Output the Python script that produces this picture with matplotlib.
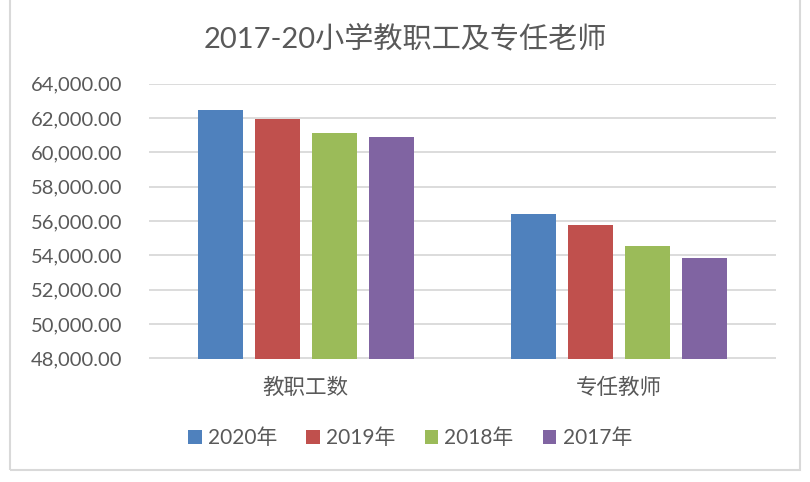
import numpy as np
import matplotlib
matplotlib.use("Agg")
import matplotlib.pyplot as plt
from matplotlib.patches import Rectangle

plt.rcParams['font.family'] = ['Lato', 'Noto Sans CJK SC', 'DejaVu Sans']

# data
categories = ['教职工数', '专任教师']
years = ['2020年', '2019年', '2018年', '2017年']
values = {
    '2020年': [62470, 56400],
    '2019年': [61940, 55770],
    '2018年': [61120, 54570],
    '2017年': [60880, 53830],
}
colors = ['#4F81BD', '#C0504D', '#9BBB59', '#8064A2']
yticks = np.arange(48000, 64001, 2000)

text_color = '#595959'
grid_color = '#D9D9D9'

fig = plt.figure(figsize=(8.1, 4.82), dpi=100)
ax = fig.add_axes([149 / 810, (482 - 358.5) / 482, 627 / 810, 275 / 482])

x = np.arange(len(categories))
step = 57 / 313.5
width = 45 / 313.5
for i, yr in enumerate(years):
    ax.bar(x + (i - 1.5) * step, values[yr], width=width, color=colors[i],
           label=yr, zorder=3)

ax.set_xlim(-0.5, 1.5)
ax.set_ylim(48000, 64000)
ax.set_yticks(yticks)
ax.set_yticklabels([f'{v:,.2f}' for v in yticks])
ax.set_xticks(x)
ax.set_xticklabels(categories)
ax.grid(axis='y', color=grid_color, linewidth=1.3, zorder=0)
for s in ax.spines.values():
    s.set_visible(False)
ax.tick_params(axis='y', length=0, pad=19, labelsize=14.5, labelcolor=text_color)
ax.tick_params(axis='x', length=0, pad=13, labelsize=15.5, labelcolor=text_color)
for lbl in ax.get_xticklabels():
    lbl.set_fontfamily(['Noto Sans CJK SC', 'DejaVu Sans'])
    lbl.set_fontweight('light')

fig.text(0.5, (482 - 39) / 482, '2017-20小学教职工及专任老师', ha='center', va='center',
         fontsize=21, color=text_color)

leg = fig.legend(loc='center', bbox_to_anchor=(410 / 810, (482 - 438) / 482), ncol=4,
                 frameon=False, handlelength=0.65, handleheight=0.65,
                 handletextpad=0.3, columnspacing=1.4, fontsize=15)
for t in leg.get_texts():
    t.set_color(text_color)

# chart border
fig.add_artist(Rectangle((10 / 810, 12 / 482), 790 / 810, 1.1, transform=fig.transFigure,
                         fill=False, edgecolor=grid_color, linewidth=1.5))

fig.savefig('out.png', dpi=100)
